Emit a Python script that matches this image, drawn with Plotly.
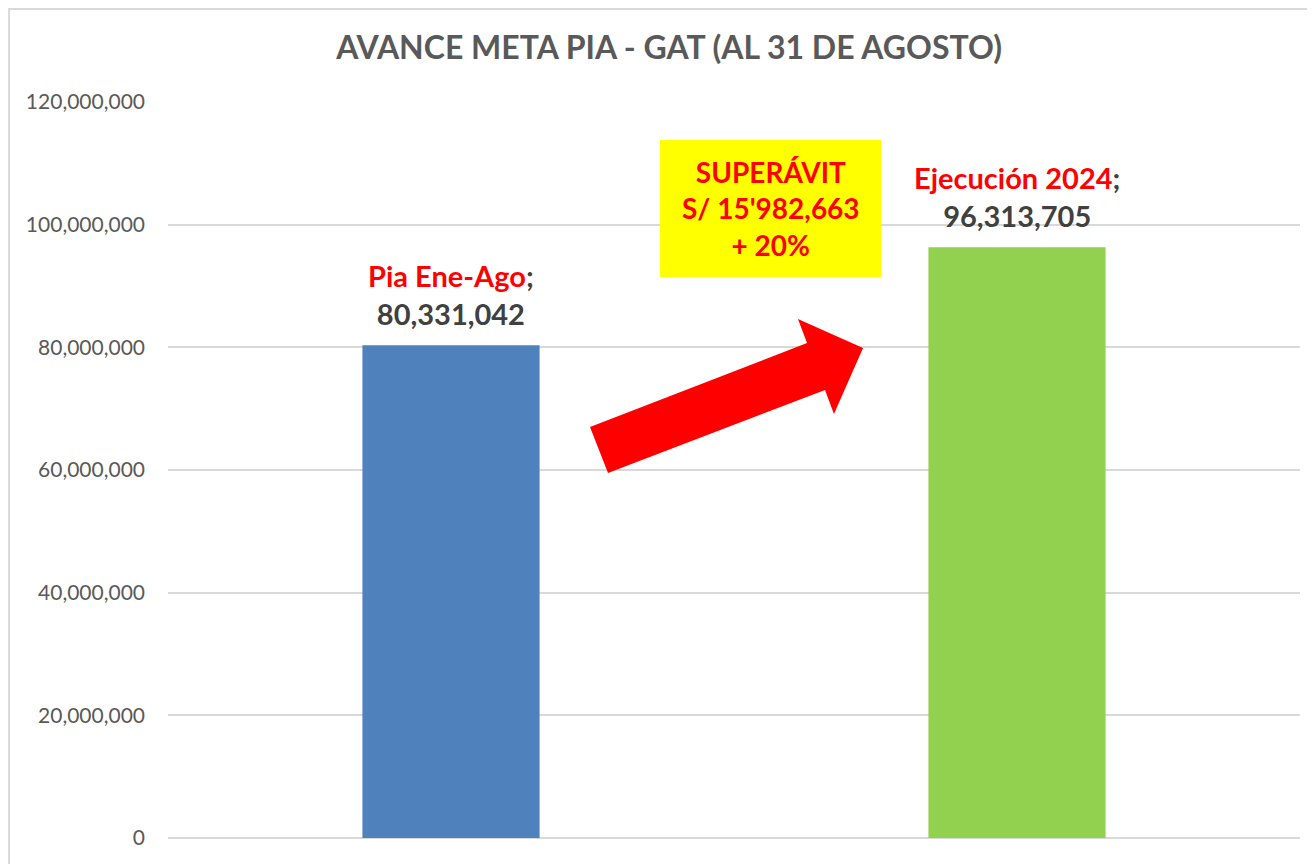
import plotly.graph_objects as go

# ---- data ----
categories = ["Pia Ene-Ago", "Ejecución 2024"]
values = [80331042, 96313705]
bar_colors = ["#4F81BD", "#92D050"]
title_text = "AVANCE META PIA - GAT (AL 31 DE AGOSTO)"
surplus_lines = ["SUPERÁVIT", "S/ 15'982,663", "+ 20%"]
y_ticks = [0, 20000000, 40000000, 60000000, 80000000, 100000000, 120000000]

FONT = "Lato"
x_idx = list(range(len(categories)))

fig = go.Figure()
fig.add_trace(go.Bar(
    x=x_idx, y=values, marker=dict(color=bar_colors, line=dict(width=0)),
    width=0.313, showlegend=False, hoverinfo="skip",
))

# data labels
for i, (c, v) in enumerate(zip(categories, values)):
    fig.add_annotation(
        x=i, y=v, xref="x", yref="y", yanchor="bottom", yshift=12,
        text=f"<span style='color:#FF0000'>{c}</span>;<br>{v:,}",
        showarrow=False, align="center",
        font=dict(family=FONT, size=29, color="#404040", weight="bold"),
    )

shapes = [
    # chart frame edge (grey line on left/top)
    dict(type="rect", xref="paper", yref="paper", x0=-0.1404, x1=1.05,
         y0=-0.08, y1=1.1264, fillcolor="white",
         line=dict(color="#D9D9D9", width=2), layer="below"),
    # yellow surplus box
    dict(type="rect", xref="paper", yref="paper", x0=0.4346, x1=0.6299,
         y0=0.7622, y1=0.9484, fillcolor="#FFFF00", line=dict(width=0),
         layer="above"),
    # red arrow
    dict(type="path", xref="paper", yref="paper",
         path=("M 0.3728 0.5584 L 0.5645 0.6726 L 0.5565 0.7052 "
               "L 0.6140 0.6658 L 0.5883 0.5761 L 0.5804 0.6087 "
               "L 0.3887 0.4959 Z"),
         fillcolor="#FF0000", line=dict(width=0), layer="above"),
]

fig.add_annotation(
    x=0.5323, y=0.8553, xref="paper", yref="paper",
    xanchor="center", yanchor="middle",
    text="<br>".join(surplus_lines), showarrow=False, align="center",
    font=dict(family=FONT, size=28, color="#FF0000", weight="bold"),
)

fig.update_layout(
    width=1315, height=864,
    margin=dict(l=160, r=23, t=94, b=34, autoexpand=False),
    paper_bgcolor="white", plot_bgcolor="rgba(0,0,0,0)",
    shapes=shapes,
    title=dict(text=title_text, x=0.5027, xanchor="center", xref="container",
               y=1 - 40 / 864, yanchor="middle", yref="container",
               font=dict(family=FONT, size=32, color="#595959", weight="bold")),
    xaxis=dict(range=[-0.5, 1.5], showticklabels=False, showgrid=False,
               zeroline=False, showline=False, fixedrange=True),
    yaxis=dict(range=[0, 120000000], tickvals=y_ticks, tickformat=",d",
               showgrid=True, gridcolor="#D9D9D9", gridwidth=2,
               zeroline=True, zerolinecolor="#D9D9D9", zerolinewidth=2,
               showline=False, ticks="", ticklabelstandoff=22,
               tickfont=dict(family=FONT, size=21, color="#595959")),
)

fig.write_html("out.html")
